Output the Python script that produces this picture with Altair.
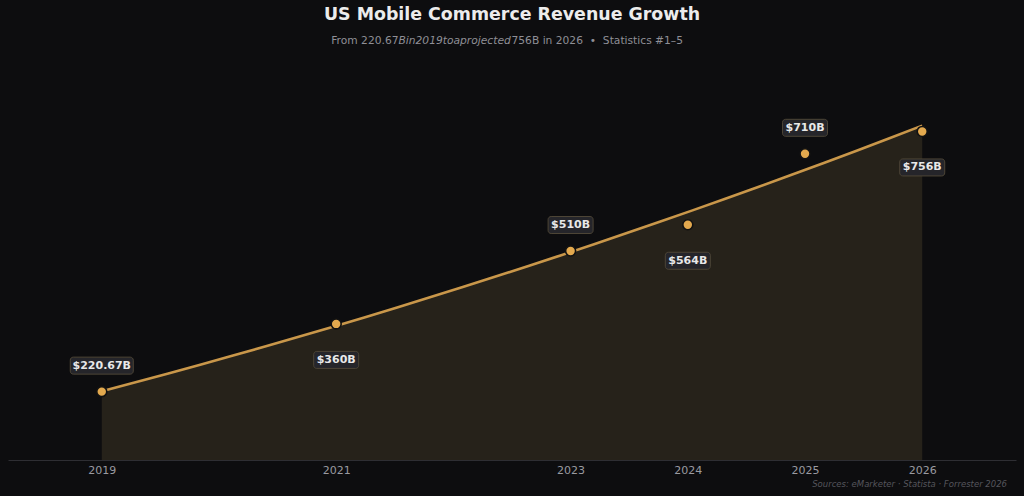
import altair as alt
import pandas as pd

# Revenue (billions USD) by year
years = [2019, 2021, 2023, 2024, 2025, 2026]
revenue = [220.67, 360, 510, 564, 710, 756]
tick_years = [2019, 2021, 2023, 2024, 2025, 2026]

title_text = "US Mobile Commerce Revenue Growth"
subtitle_parts = ["From 220.67", "Bin2019toaprojected", "756B in 2026\u00a0\u00a0•\u00a0\u00a0Statistics #1–5"]
source_text = "Sources: eMarketer · Statista · Forrester 2026"

df = pd.DataFrame({"year": years, "value": revenue})

W, H = 1008, 400
BG = "#0d0d0f"
GOLD = "#c9974a"
FONT = "DejaVu Sans"

x_enc = alt.X(
    "year:Q",
    scale=alt.Scale(domain=[2018.2, 2026.8], nice=False, zero=False),
    axis=alt.Axis(values=tick_years, format="d", title=None, grid=False, ticks=False,
                  domainColor="#2e2e33", domainWidth=1.2, labelColor="#9a9aa0",
                  labelFont=FONT, labelFontSize=11, labelPadding=4),
)
y_enc = alt.Y("value:Q", scale=alt.Scale(domain=[80, 903], nice=False, zero=False),
              axis=None, stack=None)

base = alt.Chart(df)

# quadratic trend through the yearly values
trend = base.transform_regression("year", "value", method="poly", order=2, extent=[2019, 2026])
area = trend.mark_area(color="#26221a", opacity=1).encode(x=x_enc, y=y_enc, y2=alt.value(H))
line = trend.mark_line(color=GOLD, strokeWidth=2.6).encode(x=x_enc, y=y_enc)

points = base.mark_point(filled=True, size=100, fill="#e3a94e", stroke="#121212",
                         strokeWidth=1.6, opacity=1).encode(x=x_enc, y=y_enc)

labelled = base.transform_window(idx="row_number()").transform_calculate(
    label="'$' + datum.value + 'B'",
    bw="6 * length('$' + datum.value + 'B') + 15",
)


def label_layer(parity, dy):
    sub = labelled.transform_filter(f"datum.idx % 2 == {parity}")
    box = sub.mark_rect(
        fill="#25252a", stroke="#4d4536", strokeWidth=1, cornerRadius=3,
        xOffset=alt.ExprRef("-datum.bw / 2"), x2Offset=alt.ExprRef("datum.bw / 2"),
        yOffset=dy - 8.5, y2Offset=dy + 8.5,
    ).encode(x=x_enc, x2="year:Q", y=y_enc, y2="value:Q")
    txt = sub.mark_text(font=FONT, fontSize=11, fontWeight="bold", color="#e8e8e8",
                        baseline="middle", dy=dy).encode(x=x_enc, y=y_enc, text="label:N")
    return box + txt


above = label_layer(1, -26)
below = label_layer(0, 36)

anno = alt.Chart(pd.DataFrame({"a": [0]}))
title = anno.mark_text(font=FONT, fontSize=17.4, fontWeight="bold", color="#ececec", align="center",
                       baseline="middle", text=title_text).encode(x=alt.value(W / 2), y=alt.value(-45))
sub_style = dict(font=FONT, fontSize=10.7, color="#8f8f96", baseline="middle")
sub1 = anno.mark_text(align="right", text=subtitle_parts[0], **sub_style).encode(
    x=alt.value(390.5), y=alt.value(-19))
sub2 = anno.mark_text(align="left", fontStyle="italic", text=subtitle_parts[1], **sub_style).encode(
    x=alt.value(390.5), y=alt.value(-19))
sub3 = anno.mark_text(align="left", text=subtitle_parts[2], **sub_style).encode(
    x=alt.value(503.5), y=alt.value(-19))
source = anno.mark_text(font=FONT, fontSize=8.5, color="#55555c", align="right", baseline="middle",
                        fontStyle="italic", text=source_text).encode(x=alt.value(W - 9), y=alt.value(H + 24))

chart = alt.layer(area, line, points, above, below, title, sub1, sub2, sub3, source).properties(
    width=W, height=H,
    background=BG,
    padding={"left": 8, "right": 8, "top": 60, "bottom": 36},
    autosize=alt.AutoSizeParams(type="none"),
).configure_view(stroke=None)

chart.save("out.html", embed_options={"renderer": "svg", "actions": False})
